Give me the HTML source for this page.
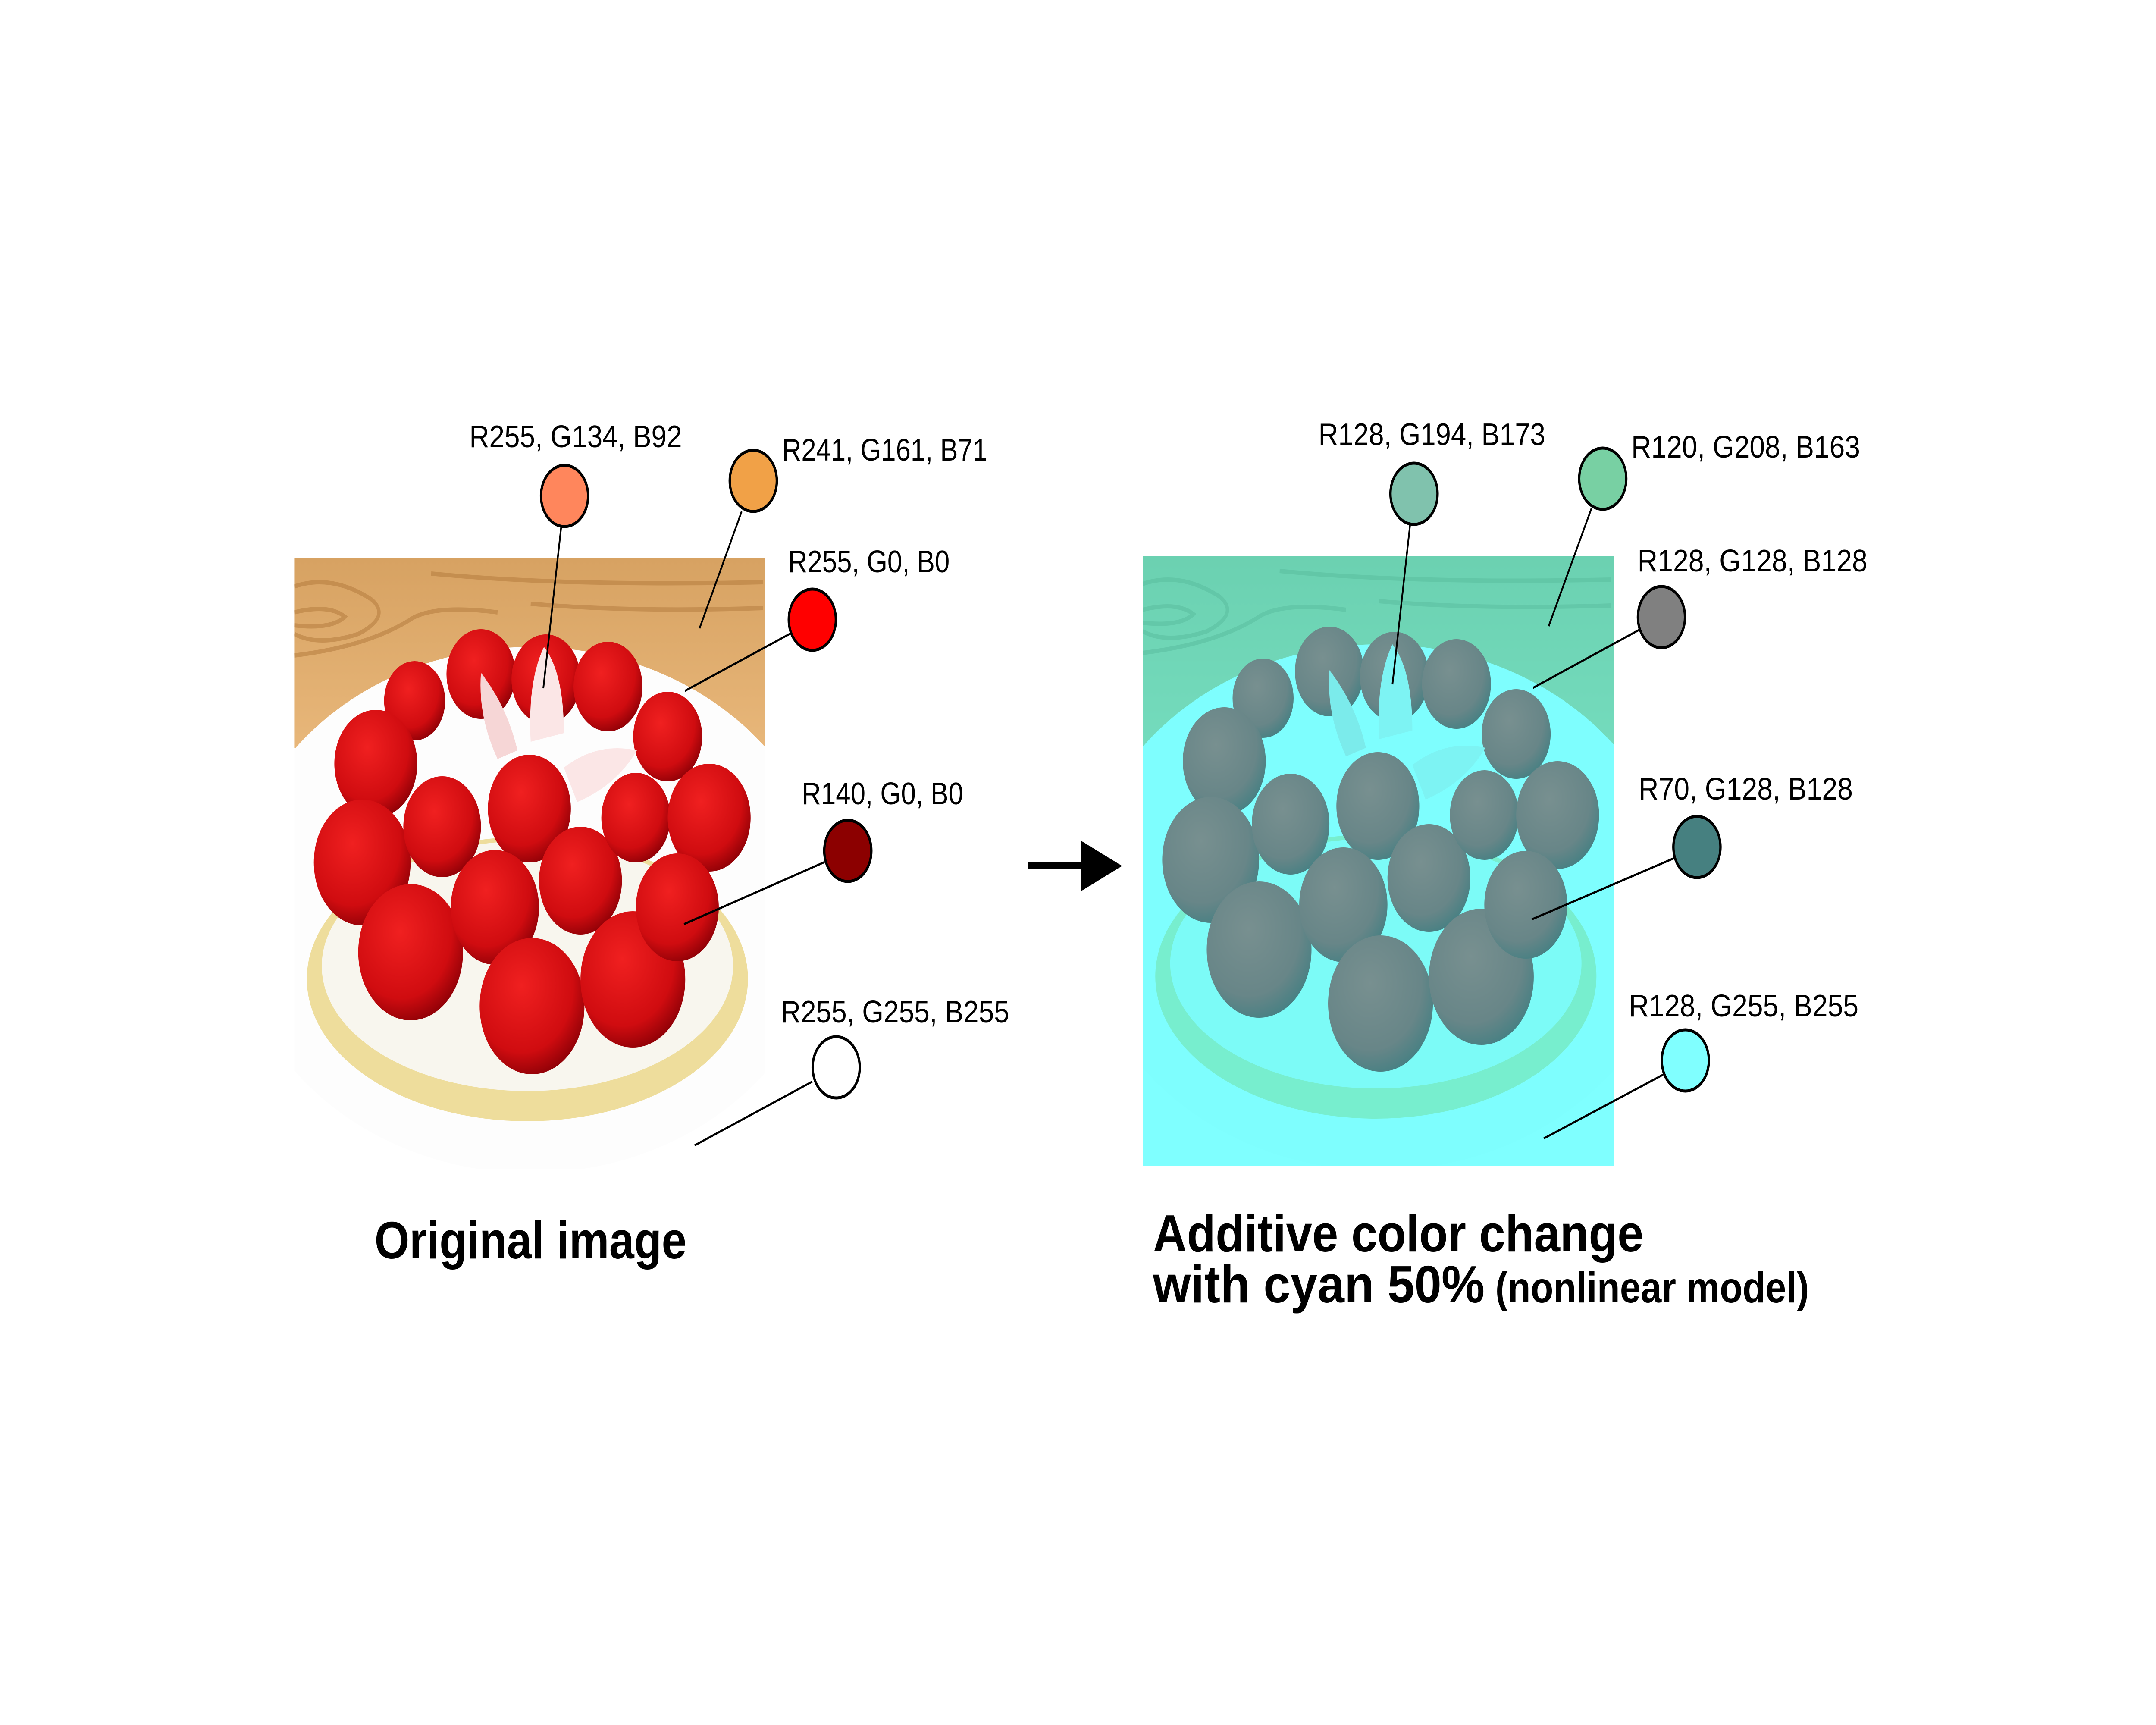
<!DOCTYPE html>
<html><head><meta charset="utf-8"><style>
html,body{margin:0;padding:0;background:#fff;width:100%;height:100%;overflow:hidden;}
svg{display:block;position:absolute;left:0;top:0;width:100vw;height:100vh;}
</style></head><body>
<svg xmlns="http://www.w3.org/2000/svg" viewBox="0 0 6500 4000" preserveAspectRatio="none">
<defs>
  <linearGradient id="wood" x1="0" y1="0" x2="0" y2="1">
    <stop offset="0" stop-color="#d7a262"/>
    <stop offset="1" stop-color="#e8b77a"/>
  </linearGradient>
  <radialGradient id="berry" cx="0.4" cy="0.35" r="0.7">
    <stop offset="0" stop-color="#f02020"/>
    <stop offset="0.7" stop-color="#d00c10"/>
    <stop offset="1" stop-color="#8a0006"/>
  </radialGradient>
  <clipPath id="clipL"><rect x="887" y="1295" width="1420" height="1415"/></clipPath>
  <g id="img">
    <g clip-path="url(#clipL)">
      <rect x="887" y="1295" width="1420" height="1415" fill="#fff"/>
      <rect x="887" y="1295" width="1420" height="440" fill="url(#wood)"/>
      <g fill="none" stroke="#b57c3f" stroke-width="10" opacity="0.55">
        <path d="M887 1360 Q1000 1330 1120 1390 Q1180 1430 1080 1470 Q960 1500 887 1470"/>
        <path d="M887 1420 Q990 1400 1040 1430 Q1000 1460 887 1450"/>
        <path d="M887 1520 Q1100 1500 1230 1440 Q1300 1400 1500 1420"/>
        <path d="M1300 1330 Q1700 1360 2300 1350"/>
        <path d="M1600 1400 Q1900 1420 2300 1410"/>
      </g>
      <ellipse cx="1600" cy="2110" rx="900" ry="610" fill="#fdfdfd"/>
      <ellipse cx="1590" cy="2270" rx="665" ry="330" fill="#eedd9c"/>
      <ellipse cx="1590" cy="2240" rx="620" ry="290" fill="#f8f6ee"/>
      <g fill="url(#berry)">
        <circle cx="1250" cy="1625" r="92"/>
        <circle cx="1133" cy="1771" r="125"/>
        <circle cx="1450" cy="1563" r="104"/>
        <circle cx="1646" cy="1575" r="104"/>
        <circle cx="1833" cy="1592" r="104"/>
        <circle cx="2013" cy="1708" r="104"/>
        <circle cx="1092" cy="2000" r="146"/>
        <circle cx="1333" cy="1917" r="117"/>
        <circle cx="1596" cy="1875" r="125"/>
        <circle cx="1750" cy="2042" r="125"/>
        <circle cx="1917" cy="1896" r="104"/>
        <circle cx="2138" cy="1896" r="125"/>
        <circle cx="1238" cy="2208" r="158"/>
        <circle cx="1492" cy="2104" r="133"/>
        <circle cx="1604" cy="2333" r="158"/>
        <circle cx="1908" cy="2271" r="158"/>
        <circle cx="2042" cy="2104" r="125"/>
      </g>
      <path d="M1640 1500 Q1700 1560 1700 1700 L1600 1720 Q1590 1580 1640 1500Z" fill="#fbe6e6"/>
      <path d="M1450 1560 Q1530 1640 1560 1740 L1500 1760 Q1440 1660 1450 1560Z" fill="#f6d6d6"/>
      <path d="M1700 1780 Q1800 1720 1920 1740 Q1860 1820 1740 1860Z" fill="#fbe6e6"/>
    </g>
  </g>
</defs>

<use href="#img"/>
<g transform="translate(2558,-6)">
  <use href="#img"/>
  <rect x="887" y="1295" width="1420" height="1415" fill="#00ffff" opacity="0.5"/>
</g>

<g font-family="'Liberation Sans', sans-serif" fill="#000">
<g stroke="#000" stroke-width="5">
  <line x1="1692" y1="1221" x2="1638" y2="1596"/>
  <line x1="2236" y1="1186" x2="2109" y2="1457"/>
  <line x1="2383" y1="1469" x2="2065" y2="1602"/>
  <line x1="2486" y1="1999" x2="2062" y2="2143"/>
  <line x1="2449" y1="2508" x2="2094" y2="2656"/>
</g>
<g stroke="#000" stroke-width="7">
  <circle cx="1702" cy="1150" r="71" fill="#ff865c"/>
  <circle cx="2271" cy="1115" r="71" fill="#f1a147"/>
  <circle cx="2449" cy="1437" r="71" fill="#ff0000"/>
  <circle cx="2556" cy="1973" r="71" fill="#8c0000"/>
  <circle cx="2521" cy="2475" r="71" fill="#ffffff"/>
</g>
<g font-size="72">
  <text x="1415" y="1037" textLength="641" lengthAdjust="spacingAndGlyphs">R255, G134, B92</text>
  <text x="2358" y="1068" textLength="619" lengthAdjust="spacingAndGlyphs">R241, G161, B71</text>
  <text x="2376" y="1327" textLength="487" lengthAdjust="spacingAndGlyphs">R255, G0, B0</text>
  <text x="2417" y="1865" textLength="487" lengthAdjust="spacingAndGlyphs">R140, G0, B0</text>
  <text x="2354" y="2371" textLength="689" lengthAdjust="spacingAndGlyphs">R255, G255, B255</text>
</g>
<text x="1129" y="2918" font-size="122" font-weight="bold" textLength="941" lengthAdjust="spacingAndGlyphs">Original image</text>

<rect x="3100" y="2000" width="170" height="16" fill="#000"/>
<polygon points="3260,1950 3383,2008 3260,2066" fill="#000"/>

<g stroke="#000" stroke-width="5">
  <line x1="4251" y1="1218" x2="4198" y2="1587"/>
  <line x1="4798" y1="1179" x2="4669" y2="1452"/>
  <line x1="4943" y1="1460" x2="4622" y2="1595"/>
  <line x1="5050" y1="1989" x2="4618" y2="2132"/>
  <line x1="5014" y1="2492" x2="4654" y2="2640"/>
</g>
<g stroke="#000" stroke-width="7">
  <circle cx="4263" cy="1145" r="71" fill="#80c2ad"/>
  <circle cx="4832" cy="1110" r="71" fill="#78d0a3"/>
  <circle cx="5009" cy="1431" r="71" fill="#808080"/>
  <circle cx="5116" cy="1964" r="71" fill="#468080"/>
  <circle cx="5081" cy="2459" r="71" fill="#80ffff"/>
</g>
<g font-size="72">
  <text x="3975" y="1032" textLength="684" lengthAdjust="spacingAndGlyphs">R128, G194, B173</text>
  <text x="4918" y="1061" textLength="690" lengthAdjust="spacingAndGlyphs">R120, G208, B163</text>
  <text x="4937" y="1325" textLength="693" lengthAdjust="spacingAndGlyphs">R128, G128, B128</text>
  <text x="4940" y="1854" textLength="646" lengthAdjust="spacingAndGlyphs">R70, G128, B128</text>
  <text x="4911" y="2357" textLength="692" lengthAdjust="spacingAndGlyphs">R128, G255, B255</text>
</g>
<text x="3476" y="2902" font-size="122" font-weight="bold" textLength="1479" lengthAdjust="spacingAndGlyphs">Additive color change</text>
<text x="3476" y="3020" font-size="122" font-weight="bold" textLength="1000" lengthAdjust="spacingAndGlyphs">with cyan 50%</text>
<text x="4508" y="3020" font-size="100" font-weight="bold" textLength="946" lengthAdjust="spacingAndGlyphs">(nonlinear model)</text>
</g>
</svg>
</body></html>
